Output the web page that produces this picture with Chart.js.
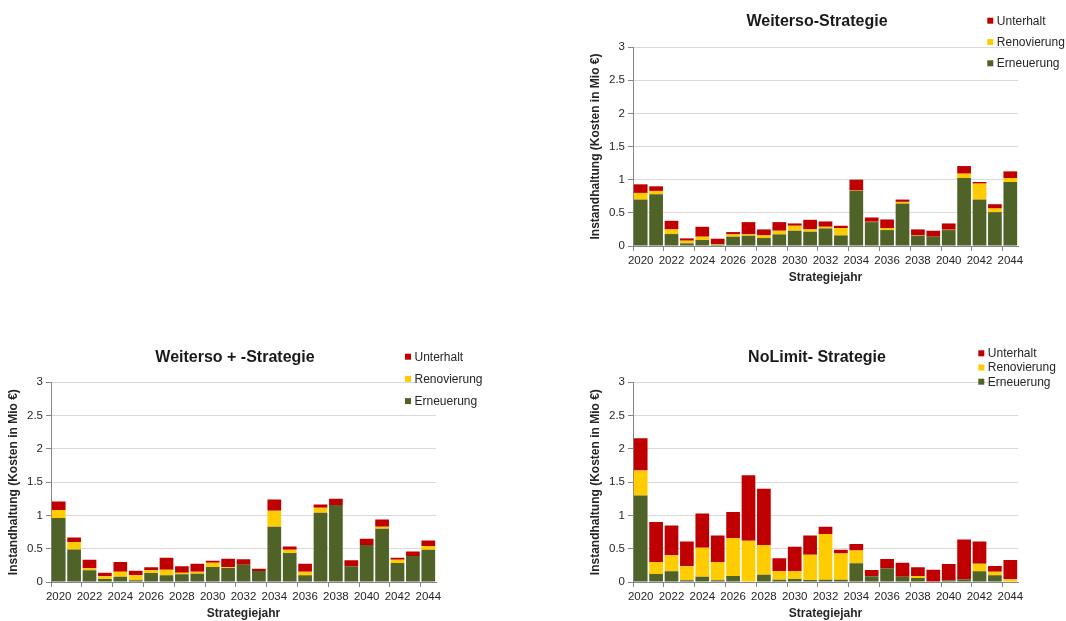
<!DOCTYPE html>
<html>
<head>
<meta charset="utf-8">
<script src="https://cdn.jsdelivr.net/npm/chart.js@4"></script>
<style>
  html, body { margin: 0; padding: 0; background: #ffffff; overflow: hidden; }
  body { width: 1066px; height: 621px; position: relative; }
  .panel { position: absolute; }
</style>
</head>
<body>
<div class="panel" style="left:585px; top:0px; width:481px; height:290px;"><canvas id="weiterso"></canvas></div>
<div class="panel" style="left:3px; top:340px; width:500px; height:286px;"><canvas id="weitersoPlus"></canvas></div>
<div class="panel" style="left:585px; top:340px; width:481px; height:286px;"><canvas id="noLimit"></canvas></div>
<script>
// Strategy years (x categories)
const years = ['2020','2021','2022','2023','2024','2025','2026','2027','2028','2029','2030','2031','2032',
  '2033','2034','2035','2036','2037','2038','2039','2040','2041','2042','2043','2044'];

const seriesNames = ['Erneuerung', 'Renovierung', 'Unterhalt'];

// Weiterso-Strategie (Mio €)
const weitersoErneuerung = [0.70,0.78,0.18,0.04,0.09,0.02,0.14,0.155,0.12,0.175,0.23,0.215,0.265,0.16,0.83,0.36,0.24,0.64,0.155,0.14,0.24,1.025,0.70,0.51,0.965];
const weitersoRenovierung = [0.10,0.05,0.07,0.04,0.05,0.01,0.035,0.02,0.04,0.055,0.075,0.035,0.025,0.11,0.005,0.005,0.03,0.025,0.005,0,0.005,0.065,0.24,0.055,0.06];
const weitersoUnterhalt = [0.13,0.07,0.13,0.035,0.15,0.08,0.035,0.185,0.09,0.13,0.035,0.145,0.08,0.035,0.165,0.065,0.13,0.035,0.09,0.09,0.095,0.115,0.025,0.065,0.10];

// Weiterso + -Strategie (Mio €)
const plusErneuerung = [0.96,0.49,0.175,0.045,0.08,0.025,0.135,0.10,0.115,0.125,0.225,0.21,0.26,0.165,0.83,0.435,0.10,1.04,1.155,0.235,0.555,0.80,0.285,0.39,0.485];
const plusRenovierung = [0.12,0.11,0.03,0.04,0.075,0.075,0.04,0.085,0.025,0.03,0.065,0.01,0,0,0.24,0.05,0.055,0.075,0,0,0,0.03,0.05,0,0.055];
const plusUnterhalt = [0.13,0.07,0.13,0.055,0.145,0.07,0.045,0.18,0.095,0.12,0.03,0.13,0.08,0.035,0.17,0.05,0.12,0.05,0.095,0.09,0.095,0.11,0.03,0.07,0.085];

// NoLimit- Strategie (Mio €)
const noLimitErneuerung = [1.30,0.12,0.16,0.025,0.08,0.025,0.09,0,0.11,0.035,0.045,0.03,0.035,0.035,0.28,0.085,0.205,0.08,0.06,0,0.025,0.04,0.16,0.10,0];
const noLimitRenovierung = [0.375,0.18,0.24,0.21,0.435,0.275,0.57,0.62,0.445,0.125,0.115,0.38,0.685,0.395,0.195,0,0,0,0.03,0,0,0,0.115,0.055,0.04];
const noLimitUnterhalt = [0.485,0.60,0.45,0.375,0.515,0.40,0.39,0.985,0.845,0.195,0.37,0.29,0.11,0.055,0.095,0.095,0.14,0.21,0.13,0.185,0.245,0.60,0.335,0.085,0.29];

const colors = ['#4F6228', '#FFCC00', '#C00000'];
const FONT = '"Liberation Sans", Arial, sans-serif';
const AXIS_GREY = '#868686';

// Draws the chart heading and the floating legend over the top-right corner
const panelText = {
  id: 'panelText',
  afterDraw(chart, args, opts) {
    const ctx = chart.ctx;
    const area = chart.chartArea;
    ctx.save();
    ctx.fillStyle = '#1a1a1a';
    ctx.font = 'bold 16px ' + FONT;
    ctx.textAlign = 'center';
    ctx.textBaseline = 'middle';
    ctx.fillText(opts.title, (area.left + area.right) / 2 - 8.5, opts.titleY);

    ctx.font = '12px ' + FONT;
    ctx.textAlign = 'left';
    const ds = chart.data.datasets.slice().reverse();
    ds.forEach((d, i) => {
      const y = opts.legendY + i * opts.legendGap;
      const x = area.right + opts.legendDx;
      ctx.fillStyle = d.backgroundColor;
      ctx.fillRect(x, y - 3, 6, 6);
      ctx.fillStyle = '#262626';
      ctx.fillText(d.label, x + 9.5, y + 0.5);
    });
    ctx.restore();
  }
};

function makeChart(id, title, values, layout) {
  const datasets = seriesNames.map((name, i) => ({
    label: name,
    data: values[i],
    backgroundColor: colors[i],
    borderWidth: 0,
    barPercentage: 0.89,
    categoryPercentage: 1.0
  }));
  return new Chart(document.getElementById(id), {
    type: 'bar',
    data: { labels: years, datasets },
    plugins: [panelText],
    options: {
      responsive: true,
      maintainAspectRatio: false,
      animation: false,
      layout: { padding: { top: layout.top, right: layout.right, bottom: 0, left: 0 } },
      plugins: {
        legend: { display: false },
        title: { display: false },
        tooltip: { enabled: false },
        panelText: { title, titleY: layout.titleY, legendDx: layout.legendDx, legendY: layout.legendY, legendGap: layout.legendGap }
      },
      scales: {
        x: {
          stacked: true,
          afterFit(scale) { scale.height = 44; },
          border: { display: true, color: AXIS_GREY, width: 1 },
          grid: {
            offset: true,
            drawOnChartArea: false,
            drawTicks: true,
            tickLength: 5,
            tickColor: (c) => (c.index % 2 === 0 && c.index < years.length) ? AXIS_GREY : 'rgba(0,0,0,0)'
          },
          ticks: {
            autoSkip: false,
            maxRotation: 0,
            padding: 3,
            color: '#262626',
            font: { family: FONT, size: 11.5 },
            callback: function (v, i) { return i % 2 === 0 ? this.getLabelForValue(v) : ''; }
          },
          title: {
            display: true,
            text: 'Strategiejahr',
            color: '#262626',
            font: { family: FONT, size: 12, weight: 'bold' },
            padding: { top: 0, bottom: 5 }
          }
        },
        y: {
          stacked: true,
          min: 0,
          max: 3,
          afterFit(scale) { scale.width = 48; },
          border: { display: true, color: AXIS_GREY, width: 1 },
          grid: {
            color: '#D9D9D9',
            lineWidth: 1,
            drawTicks: true,
            tickLength: 5,
            tickColor: AXIS_GREY
          },
          ticks: {
            stepSize: 0.5,
            padding: 3,
            color: '#262626',
            font: { family: FONT, size: 11.5 },
            callback: (v) => String(Math.round(v * 10) / 10)
          },
          title: {
            display: true,
            text: 'Instandhaltung (Kosten in Mio €)',
            color: '#262626',
            font: { family: FONT, size: 12, weight: 'bold' },
            padding: { top: 3, bottom: 0 }
          }
        }
      }
    }
  });
}

makeChart('weiterso', 'Weiterso-Strategie',
  [weitersoErneuerung, weitersoRenovierung, weitersoUnterhalt],
  { top: 47, right: 48, titleY: 21.7, legendDx: -30.7, legendY: 20.7, legendGap: 21.3 });

makeChart('weitersoPlus', 'Weiterso + -Strategie',
  [plusErneuerung, plusRenovierung, plusUnterhalt],
  { top: 42.3, right: 67, titleY: 17.7, legendDx: -31, legendY: 16.7, legendGap: 22.2 });

makeChart('noLimit', 'NoLimit- Strategie',
  [noLimitErneuerung, noLimitRenovierung, noLimitUnterhalt],
  { top: 42.3, right: 48, titleY: 17.7, legendDx: -39.7, legendY: 13.3, legendGap: 14.2 });
</script>
</body>
</html>
